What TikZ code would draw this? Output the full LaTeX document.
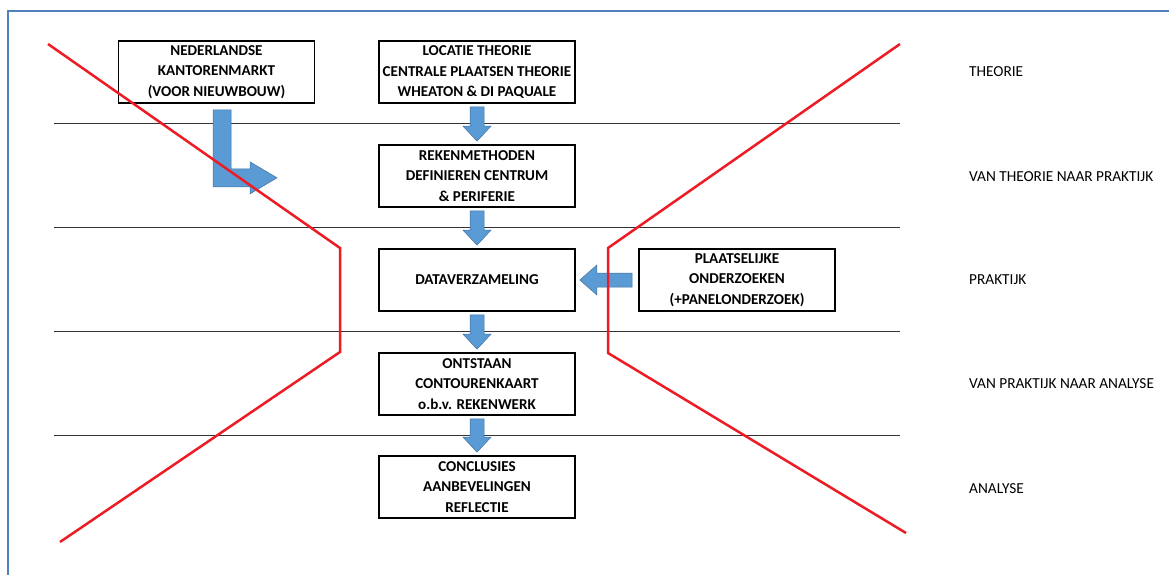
\documentclass[tikz,border=0pt]{standalone}
\usepackage{fontspec}
\setmainfont{Carlito}
\usetikzlibrary{calc}
\definecolor{frameblue}{HTML}{4F81BD}
\definecolor{arrowfill}{HTML}{5B9BD5}
\definecolor{arrowedge}{HTML}{41719C}
\definecolor{xred}{HTML}{ED1C24}
\tikzset{
  stepbox/.style={draw=black, line width=1.7pt, minimum width=196pt, minimum height=62pt,
    inner sep=0pt, align=center, font=\fontsize{15.1}{20.5}\selectfont\bfseries},
  phase/.style={anchor=west, inner sep=0pt, font=\fontsize{15.3}{17}\selectfont},
  blockarrow/.style={fill=arrowfill, draw=arrowedge, line width=0.5pt},
  divider/.style={draw=black!80, line width=0.8pt},
  cross/.style={draw=xred, line width=2.5pt, line join=miter},
}
% broad downward block arrow from the bottom of #1 to the top of #2
\newcommand\blockdown[2]{%
  \path[blockarrow]
    ($(#1.south)+(-7,3)$) -- ($(#2.north)+(-7,-18)$) -- ($(#2.north)+(-14,-18)$)
    -- ($(#2.north)+(0,-3)$) -- ($(#2.north)+(14,-18)$) -- ($(#2.north)+(7,-18)$)
    -- ($(#1.south)+(7,3)$) -- cycle;}
\begin{document}
\begin{tikzpicture}[x=1pt, y=-1pt]
\useasboundingbox (0,0) rectangle (1169,575);
\fill[white] (0,0) rectangle (1169,575);

% frame
\draw[frameblue, line width=2pt] (8,575) -- (8,11) -- (1169,11);

% phase dividers
\foreach \yy in {123,227,331,435}
  \draw[divider] (54,\yy) -- (900,\yy);

% boxes
\node[stepbox] (markt) at (216.5,72) {NEDERLANDSE\\KANTORENMARKT\\(VOOR NIEUWBOUW)};
\node[stepbox] (theorie) at (477,72) {LOCATIE THEORIE\\CENTRALE PLAATSEN THEORIE\\WHEATON \& DI PAQUALE};
\node[stepbox] (reken) at (477,176) {REKENMETHODEN\\DEFINIEREN CENTRUM\\\& PERIFERIE};
\node[stepbox] (data) at (477,280) {DATAVERZAMELING};
\node[stepbox] (plaats) at (737,280) {PLAATSELIJKE\\ONDERZOEKEN\\(+PANELONDERZOEK)};
\node[stepbox] (kaart) at (477,384) {ONTSTAAN\\CONTOURENKAART\\o.b.v. REKENWERK};
\node[stepbox] (concl) at (477,487) {CONCLUSIES\\AANBEVELINGEN\\REFLECTIE};

% phase labels
\node[phase] (p1) at (969,72) {THEORIE};
\node[phase] (p2) at (969,177) {VAN THEORIE NAAR PRAKTIJK};
\node[phase] (p3) at (969,280) {PRAKTIJK};
\node[phase] (p4) at (969,384) {VAN PRAKTIJK NAAR ANALYSE};
\node[phase] (p5) at (969,489) {ANALYSE};

% flow arrows
\blockdown{theorie}{reken}
\blockdown{reken}{data}
\blockdown{data}{kaart}
\blockdown{kaart}{concl}

% bent arrow from the market box
\coordinate (bendtip) at ($(markt.south)+(60.5,74)$);
\path[blockarrow]
  ($(markt.south)+(-3.5,6)$) -- ($(markt.south)+(-3.5,83)$) -- ($(bendtip)+(-27,9)$)
  -- ($(bendtip)+(-27,16)$) -- (bendtip) -- ($(bendtip)+(-27,-16)$)
  -- ($(bendtip)+(-27,-9)$) -- ($(markt.south)+(14.5,65)$) -- ($(markt.south)+(14.5,6)$) -- cycle;

% arrow from local surveys into data collection
\path[blockarrow]
  ($(plaats.west)+(-6,-7)$) -- ($(data.east)+(21,-7)$) -- ($(data.east)+(21,-15)$)
  -- ($(data.east)+(4,0)$) -- ($(data.east)+(21,15)$) -- ($(data.east)+(21,7)$)
  -- ($(plaats.west)+(-6,7)$) -- cycle;

% red funnel outline
\draw[cross] (48,44) -- (340,248) -- (340,352) -- (60,542);
\draw[cross] (900,44) -- (608,248) -- (608,353) -- (906,533);
\end{tikzpicture}
\end{document}
